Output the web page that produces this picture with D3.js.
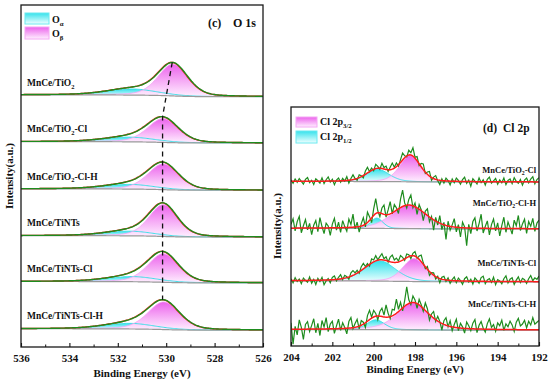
<!DOCTYPE html>
<html>
<head>
<meta charset="utf-8">
<script src="https://cdn.jsdelivr.net/npm/d3@7/dist/d3.min.js"></script>
<style>
body{margin:0;background:#fff;}
text{font-family:"Liberation Serif","Times New Roman",serif;font-weight:bold;fill:#111;}
</style>
</head>
<body>
<div id="canvas"></div>
<script>
// --- O 1s fits (left panel), one entry per sample
var oSamples = ["MnCe/TiO2","MnCe/TiO2-Cl","MnCe/TiO2-Cl-H","MnCe/TiNTs","MnCe/TiNTs-Cl","MnCe/TiNTs-Cl-H"];
var oBetaPos = [529.72,530.13,530.12,530.12,530.12,530.10];
var oBetaHeight = [0.68,0.51,0.55,0.68,0.61,0.59];
var oBetaFwhm = [1.45,1.5,1.5,1.4,1.5,1.55];
var oAlphaPos = [531.4,531.5,531.5,531.5,531.4,531.5];
var oAlphaHeight = [0.13,0.1,0.1,0.1,0.11,0.12];
var oAlphaFwhm = [2.4,2.4,2.4,2.3,2.4,2.4];
var oBgStep = [0.04,0.03,0.03,0.03,0.03,0.03];
var oTicks = [536,534,532,530,528,526];
var oMinor = [535,533,531,529,527];

// --- Cl 2p fits (right panel)
var clSamples = ["MnCe/TiO2-Cl","MnCe/TiO2-Cl-H","MnCe/TiNTs-Cl","MnCe/TiNTs-Cl-H"];
var cl32Pos = [198.24,198.3,198.05,198.1];
var cl32Height = [0.56,0.5,0.49,0.58];
var cl32Fwhm = [1.2,2.0,1.3,1.8];
var cl32Mix = [0.3,0.3,0.3,0.5];
var cl12Pos = [199.8,199.85,199.7,199.9];
var cl12Height = [0.26,0.22,0.43,0.21];
var cl12Fwhm = [1.3,0.7,1.8,1.0];
var clBgStep = [0.01,0.01,0.02,0.01];
var clTicks = [204,202,200,198,196,194,192];
var clMinor = [203,201,199,197,195,193];

// raw minus fit (204 -> 192 eV, 0.1 eV steps)
var residTiO2Cl = [0.03,-0.04,0.05,-0.02,0.06,0.0,-0.06,0.04,0.08,-0.03,0.02,-0.07,0.05,0.01,-0.04,0.07,-0.05,0.03,0.09,-0.02,
  0.04,-0.08,0.02,0.06,-0.03,0.05,-0.01,0.08,-0.06,0.03,0.1,0.01,-0.04,0.06,0.02,-0.05,0.07,0.12,0.0,0.05,
  -0.03,0.09,0.04,-0.02,0.11,0.03,0.07,-0.04,0.05,0.13,0.02,0.08,-0.03,0.06,0.15,0.04,-0.02,0.1,0.05,0.18,
  0.02,0.09,-0.04,0.07,0.12,-0.03,0.05,0.1,-0.06,0.03,0.08,-0.02,-0.09,0.04,-0.05,0.06,0.01,-0.08,0.05,-0.03,
  0.07,0.02,-0.06,0.04,0.09,-0.04,0.03,-0.1,0.06,0.01,-0.05,0.08,-0.02,0.04,-0.07,0.05,0.1,-0.03,0.02,0.07,
  -0.05,0.04,-0.02,0.08,-0.06,0.03,0.06,-0.04,0.09,0.01,-0.03,0.05,-0.07,0.04,0.08,-0.02,0.06,0.11,-0.04,0.05,0.09];
var residTiO2ClH = [0.08,0.2,-0.06,0.14,0.25,-0.1,0.05,0.18,-0.04,0.1,-0.14,0.06,0.16,-0.08,0.22,0.03,-0.12,0.1,0.04,-0.16,
  0.08,0.2,-0.05,0.12,-0.1,0.15,0.02,-0.08,0.18,0.06,0.28,-0.04,0.1,-0.12,0.05,0.16,-0.06,0.22,0.08,-0.1,
  0.14,0.32,0.04,-0.08,0.12,0.2,-0.05,0.1,0.26,-0.02,0.15,0.05,-0.1,0.18,0.35,0.06,-0.06,0.12,0.22,-0.04,
  0.08,-0.14,0.1,0.02,-0.18,0.06,0.14,-0.1,0.04,-0.22,0.08,-0.06,0.16,-0.12,0.05,-0.3,0.1,-0.08,0.04,0.18,
  -0.1,0.06,-0.2,0.12,0.02,-0.38,0.08,-0.12,0.14,0.22,-0.06,0.1,0.3,-0.1,0.04,0.16,-0.14,0.08,0.2,-0.05,
  0.12,-0.16,0.06,0.24,-0.08,0.14,0.02,-0.12,0.18,0.06,0.28,-0.04,0.1,0.2,-0.1,0.15,0.05,0.22,-0.06,0.12,0.18];
var residTiNTsCl = [0.04,-0.05,0.06,-0.02,0.03,-0.07,0.05,0.0,-0.04,0.07,-0.06,0.02,-0.09,0.04,-0.03,0.06,-0.1,-0.02,0.03,-0.06,
  0.05,0.08,-0.03,0.04,0.09,-0.02,0.06,0.02,-0.05,0.07,0.1,0.03,0.06,-0.03,0.08,0.12,0.02,0.05,-0.04,0.09,
  0.04,0.11,0.01,0.07,0.13,0.03,0.08,-0.02,0.1,0.15,0.05,0.09,0.02,0.12,0.06,-0.03,0.08,0.04,-0.06,0.05,
  0.1,-0.02,0.07,0.14,0.03,-0.04,0.06,-0.08,0.02,0.05,-0.05,0.03,-0.09,0.04,0.07,-0.03,0.05,-0.06,0.02,0.08,
  -0.04,0.06,0.01,-0.07,0.05,0.09,-0.02,0.04,-0.06,0.07,0.02,-0.04,0.08,0.11,-0.05,0.03,0.06,-0.02,0.09,-0.07,
  0.04,0.01,-0.05,0.06,0.12,-0.03,0.05,0.08,-0.06,0.03,0.1,-0.02,0.07,0.04,-0.04,0.06,0.13,0.02,0.08,0.05,0.12];
var residTiNTsClH = [0.14,-0.32,0.06,-0.12,0.2,0.04,-0.22,0.1,0.16,-0.05,0.08,0.22,-0.08,0.12,-0.14,0.18,0.04,0.24,-0.06,0.1,
  0.16,-0.1,0.06,0.2,-0.04,0.12,0.02,-0.12,0.14,0.22,-0.02,0.08,0.16,-0.06,0.1,0.04,-0.1,0.12,0.2,0.02,
  0.14,0.06,-0.08,0.1,0.18,0.04,0.26,0.08,-0.04,0.14,0.1,0.3,0.05,0.16,-0.06,0.12,0.38,0.08,-0.04,0.14,
  0.06,-0.1,0.12,0.04,-0.06,0.16,0.08,-0.12,0.05,0.14,-0.04,0.1,0.02,-0.14,0.08,0.16,-0.02,0.12,-0.08,0.06,
  0.18,-0.06,0.1,0.03,-0.1,0.14,0.06,-0.04,0.12,0.2,-0.08,0.08,0.16,0.02,-0.06,0.12,0.22,0.04,0.1,-0.04,
  0.14,0.08,0.2,-0.02,0.12,0.06,0.18,0.1,-0.04,0.16,0.24,0.08,0.12,0.2,0.04,0.18,0.1,0.26,0.12,0.16,0.2];
var clResid = [residTiO2Cl,residTiO2ClH,residTiNTsCl,residTiNTsClH];

var GREEN = "#1e8c1e", RED = "#ff1c1c", GRAY = "#9a9a9a";

var svg = d3.select('#canvas').append('svg')
  .attr('width',550).attr('height',382);
var defs = svg.append('defs');

function grad(id, top, bottom){
  var g = defs.append('linearGradient').attr('id',id)
    .attr('x1',0).attr('y1',0).attr('x2',0).attr('y2',1);
  g.append('stop').attr('offset','0%').attr('stop-color',top);
  g.append('stop').attr('offset','100%').attr('stop-color',bottom);
}
grad('gPink','#ec62ec','#fff0ff');
grad('gCyan','#36e2ec','#efffff');

// pseudo-voigt peak
function pv(x, p){
  var t = 4*(x-p.c)*(x-p.c)/(p.w*p.w);
  return p.h*((1-p.m)*Math.exp(-Math.LN2*t) + p.m/(1+t));
}
// components + shirley-type background on a BE grid (descending)
function model(grid, peaks, step, offset){
  var comp = peaks.map(function(p){ return grid.map(function(x){ return pv(x,p); }); });
  var sum = grid.map(function(x,i){ return d3.sum(comp, function(c){ return c[i]; }); });
  var total = d3.sum(sum), acc = 0, bg = [];
  for (var i = grid.length-1; i >= 0; i--) { acc += sum[i]; bg[i] = offset + step*acc/total; }
  return {comp:comp, bg:bg, fit:grid.map(function(x,i){ return bg[i]+sum[i]; })};
}

// text with TiO2 / greek / fraction subscripts
function label(g, x, y, parts, size, anchor){
  var t = g.append('text').attr('x',x).attr('y',y)
    .attr('font-size',size).attr('text-anchor',anchor||'start');
  var down = false;
  parts.forEach(function(p){
    if (p.sub) {
      t.append('tspan').attr('dy', size*0.28).attr('font-size', size*0.68).text(p.sub);
      down = true;
    } else {
      t.append('tspan').attr('dy', down ? -size*0.28 : 0).text(p.t);
      down = false;
    }
  });
  return t;
}
function sampleParts(s){
  var k = s.indexOf('TiO2');
  if (k < 0) return [{t:s}];
  return [{t:s.slice(0,k+3)},{sub:'2'},{t:s.slice(k+4) || ''}];
}

function frameAxes(g, x, y, ticks, minor){
  var r = y.range();
  g.append('g').attr('transform','translate(0,'+r[0]+')')
    .call(d3.axisBottom(x).tickValues(ticks).tickSizeInner(-4).tickSizeOuter(0).tickPadding(7).tickFormat(d3.format('d')))
    .call(function(a){
      a.select('.domain').remove();
      a.selectAll('line').attr('stroke','#111').attr('stroke-width',1.1);
      a.selectAll('text').attr('font-size',11).attr('fill','#111')
        .style('font-family','"Liberation Serif","Times New Roman",serif').style('font-weight','bold');
    });
  g.append('g').attr('transform','translate(0,'+r[0]+')')
    .call(d3.axisBottom(x).tickValues(minor).tickSizeInner(-2.5).tickSizeOuter(0).tickFormat(''))
    .call(function(a){ a.select('.domain').remove(); a.selectAll('line').attr('stroke','#111'); });
  var xr = x.range();
  g.append('rect').attr('x',xr[0]).attr('y',r[1]).attr('width',xr[1]-xr[0]).attr('height',r[0]-r[1])
    .attr('fill','none').attr('stroke','#1a1a1a').attr('stroke-width',1.3);
}

// ================= Left panel : O 1s =================
var xL = d3.scaleLinear().domain([536,526]).range([21,263]);
var yL = d3.scaleLinear().domain([0,7.31]).range([347,5]);
var oOffset = [5.35,4.36,3.35,2.35,1.37,0.36];
var left = svg.append('g');
defs.append('clipPath').attr('id','clipL').append('rect')
  .attr('x',21).attr('y',5).attr('width',242).attr('height',342);
var plotL = left.append('g').attr('clip-path','url(#clipL)');
var gridL = d3.range(201).map(function(i){ return 536 - i*0.05; });
var tops = [];

oSamples.forEach(function(s,i){
  var peaks = [{c:oAlphaPos[i],h:oAlphaHeight[i],w:oAlphaFwhm[i],m:0.3},
               {c:oBetaPos[i],h:oBetaHeight[i],w:oBetaFwhm[i],m:0.3}];
  var md = model(gridL, peaks, oBgStep[i], oOffset[i]);
  var area = function(ci){ return d3.area().x(function(d,j){ return xL(gridL[j]); })
      .y0(function(d,j){ return yL(md.bg[j]); }).y1(function(d,j){ return yL(md.bg[j]+d); })(md.comp[ci]); };
  var edge = function(ci){ return d3.line().x(function(d,j){ return xL(gridL[j]); })
      .y(function(d,j){ return yL(md.bg[j]+d); })(md.comp[ci]); };
  var line = d3.line().x(function(d,j){ return xL(gridL[j]); }).y(function(d){ return yL(d); });
  plotL.append('path').attr('d',area(0)).attr('fill','url(#gCyan)');
  plotL.append('path').attr('d',area(1)).attr('fill','url(#gPink)');
  plotL.append('path').attr('d',edge(0)).attr('fill','none').attr('stroke','#3ee0e8').attr('stroke-width',1);
  plotL.append('path').attr('d',edge(1)).attr('fill','none').attr('stroke','#f2a2f2').attr('stroke-width',0.8);
  plotL.append('path').attr('d',line(md.bg)).attr('fill','none').attr('stroke',GRAY).attr('stroke-width',1.2);
  plotL.append('path').attr('d',line(md.fit)).attr('fill','none').attr('stroke',RED).attr('stroke-width',1.4)
    .attr('transform','translate(-0.6,0)');
  plotL.append('path').attr('d',line(md.fit)).attr('fill','none').attr('stroke',GREEN).attr('stroke-width',1.4);
  var k = d3.maxIndex(md.fit);
  tops.push([gridL[k], md.fit[k]]);
  label(left, 27, yL(oOffset[i]+0.23), sampleParts(s), 9.5);
});

// peak-shift guide
var guide = [tops[0], tops[1], [tops[1][0], tops[5][1]]];
plotL.append('path')
  .attr('d', d3.line().x(function(d){ return xL(d[0]); }).y(function(d){ return yL(d[1]); })(guide))
  .attr('fill','none').attr('stroke','#111').attr('stroke-width',1.3).attr('stroke-dasharray','5,4');

frameAxes(left, xL, yL, oTicks, oMinor);
left.append('text').attr('x',142).attr('y',377).attr('text-anchor','middle').attr('font-size',11).text('Binding Energy (eV)');
left.append('text').attr('transform','translate(13,176) rotate(-90)').attr('text-anchor','middle').attr('font-size',11).text('Intensity(a.u.)');
left.append('rect').attr('x',25).attr('y',13).attr('width',24).attr('height',11).attr('fill','url(#gCyan)').attr('stroke','#6ceaf0');
left.append('rect').attr('x',25).attr('y',27).attr('width',24).attr('height',12).attr('fill','url(#gPink)').attr('stroke','#f4a8f4');
label(left, 52, 23, [{t:'O'},{sub:'\u03b1'}], 10);
label(left, 52, 37, [{t:'O'},{sub:'\u03b2'}], 10);
left.append('text').attr('x',208).attr('y',27).attr('font-size',12).text('(c)');
left.append('text').attr('x',233).attr('y',27).attr('font-size',12).text('O 1s');

// ================= Right panel : Cl 2p =================
var xR = d3.scaleLinear().domain([204,192]).range([291,539]);
var yR = d3.scaleLinear().domain([0,5.1]).range([346,107]);
var clOffset = [3.5,2.5,1.37,0.34];
var clLabelLift = [0.2,0.49,0.34,0.49];
var right = svg.append('g');
defs.append('clipPath').attr('id','clipR').append('rect')
  .attr('x',291).attr('y',107).attr('width',248).attr('height',239);
var plotR = right.append('g').attr('clip-path','url(#clipR)');
var gridR = d3.range(241).map(function(i){ return 204 - i*0.05; });

clSamples.forEach(function(s,i){
  var peaks = [{c:cl12Pos[i],h:cl12Height[i],w:cl12Fwhm[i],m:0.3},
               {c:cl32Pos[i],h:cl32Height[i],w:cl32Fwhm[i],m:cl32Mix[i]}];
  var md = model(gridR, peaks, clBgStep[i], clOffset[i]);
  var res = clResid[i];
  var gridRaw = res.map(function(d,j){ return 204 - j*12/(res.length-1); });
  var mdRaw = model(gridRaw, peaks, clBgStep[i], clOffset[i]);
  var raw = res.map(function(d,j){ return mdRaw.fit[j] + d; });
  var area = function(ci){ return d3.area().x(function(d,j){ return xR(gridR[j]); })
      .y0(function(d,j){ return yR(md.bg[j]); }).y1(function(d,j){ return yR(md.bg[j]+d); })(md.comp[ci]); };
  var edge = function(ci){ return d3.line().x(function(d,j){ return xR(gridR[j]); })
      .y(function(d,j){ return yR(md.bg[j]+d); })(md.comp[ci]); };
  var line = d3.line().x(function(d,j){ return xR(gridR[j]); }).y(function(d){ return yR(d); });
  plotR.append('path').attr('d',area(0)).attr('fill','url(#gCyan)');
  plotR.append('path').attr('d',area(1)).attr('fill','url(#gPink)');
  plotR.append('path').attr('d',edge(0)).attr('fill','none').attr('stroke','#3ee0e8').attr('stroke-width',1);
  plotR.append('path').attr('d',edge(1)).attr('fill','none').attr('stroke','#f2a2f2').attr('stroke-width',0.8);
  plotR.append('path').attr('d',line(md.bg)).attr('fill','none').attr('stroke',GRAY).attr('stroke-width',1.2);
  plotR.append('path')
    .attr('d', d3.line().x(function(d,j){ return xR(gridRaw[j]); }).y(function(d){ return yR(d); })(raw))
    .attr('fill','none').attr('stroke',GREEN).attr('stroke-width',1.2);
  plotR.append('path').attr('d',line(md.fit)).attr('fill','none').attr('stroke',RED).attr('stroke-width',1.5);
  label(right, 536, yR(clOffset[i]+clLabelLift[i]), sampleParts(s), 8.5, 'end');
});

frameAxes(right, xR, yR, clTicks, clMinor);
right.append('text').attr('x',415).attr('y',373).attr('text-anchor','middle').attr('font-size',11).text('Binding Energy (eV)');
right.append('text').attr('transform','translate(281,226) rotate(-90)').attr('text-anchor','middle').attr('font-size',11).text('Intensity(a.u.)');
right.append('rect').attr('x',296).attr('y',117).attr('width',21).attr('height',10).attr('fill','url(#gPink)').attr('stroke','#f4a8f4');
right.append('rect').attr('x',296).attr('y',131).attr('width',21).attr('height',12).attr('fill','url(#gCyan)').attr('stroke','#6ceaf0');
label(right, 320, 125, [{t:'Cl 2p'},{sub:'3/2'}], 10);
label(right, 320, 140, [{t:'Cl 2p'},{sub:'1/2'}], 10);
right.append('text').attr('x',483).attr('y',132).attr('font-size',11.5).text('(d)');
right.append('text').attr('x',503).attr('y',132).attr('font-size',11.5).text('Cl 2p');
</script>
</body>
</html>
